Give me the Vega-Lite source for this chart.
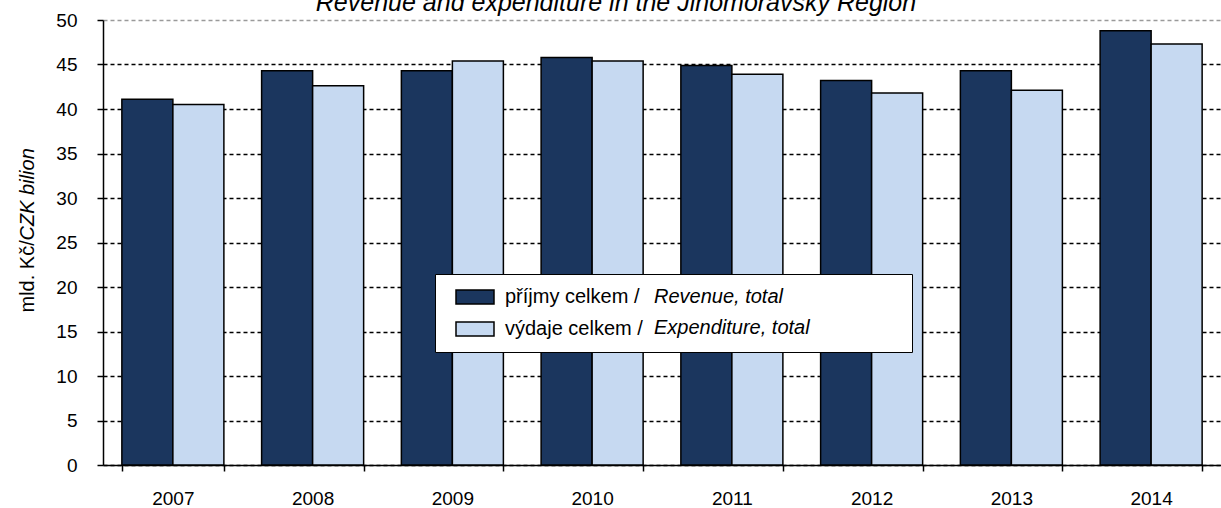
{
  "$schema": "https://vega.github.io/schema/vega-lite/v6.json",
  "width": 1118,
  "height": 445,
  "autosize": {"type": "none"},
  "padding": {"left": 103, "top": 20, "right": 0, "bottom": 43},
  "background": "white",
  "title": {
    "text": "Revenue and expenditure in the Jihomoravský Region",
    "font": "Liberation Sans",
    "fontStyle": "italic",
    "fontWeight": "normal",
    "fontSize": 25,
    "color": "black",
    "anchor": "middle",
    "baseline": "alphabetic",
    "offset": 2,
    "dx": -46,
    "dy": 27
  },
  "data": {
    "values": [
      {"year": "2007", "series": "příjmy celkem / Revenue, total", "value": 41.1},
      {"year": "2007", "series": "výdaje celkem / Expenditure, total", "value": 40.5},
      {"year": "2008", "series": "příjmy celkem / Revenue, total", "value": 44.3},
      {"year": "2008", "series": "výdaje celkem / Expenditure, total", "value": 42.6},
      {"year": "2009", "series": "příjmy celkem / Revenue, total", "value": 44.3},
      {"year": "2009", "series": "výdaje celkem / Expenditure, total", "value": 45.4},
      {"year": "2010", "series": "příjmy celkem / Revenue, total", "value": 45.8},
      {"year": "2010", "series": "výdaje celkem / Expenditure, total", "value": 45.4},
      {"year": "2011", "series": "příjmy celkem / Revenue, total", "value": 44.9},
      {"year": "2011", "series": "výdaje celkem / Expenditure, total", "value": 43.9},
      {"year": "2012", "series": "příjmy celkem / Revenue, total", "value": 43.2},
      {"year": "2012", "series": "výdaje celkem / Expenditure, total", "value": 41.8},
      {"year": "2013", "series": "příjmy celkem / Revenue, total", "value": 44.3},
      {"year": "2013", "series": "výdaje celkem / Expenditure, total", "value": 42.1},
      {"year": "2014", "series": "příjmy celkem / Revenue, total", "value": 48.8},
      {"year": "2014", "series": "výdaje celkem / Expenditure, total", "value": 47.3}
    ]
  },
  "mark": {"type": "bar", "stroke": "black", "strokeWidth": 1.5},
  "encoding": {
    "x": {
      "field": "year",
      "type": "ordinal",
      "scale": {"paddingInner": 0.27, "paddingOuter": 0.135},
      "axis": {
        "title": "CZK bilion",
        "titleFont": "Liberation Sans",
        "titleFontSize": 20,
        "titleFontStyle": "italic",
        "titleFontWeight": "normal",
        "titleColor": "black",
        "titleAngle": 270,
        "titleAlign": "left",
        "titleBaseline": "alphabetic",
        "titleX": -70,
        "titleY": -225,
        "tickBand": "extent",
        "grid": false,
        "domainColor": "black",
        "domainWidth": 1.5,
        "tickColor": "black",
        "tickSize": 6,
        "tickWidth": 1.5,
        "labelFont": "Liberation Sans",
        "labelFontSize": 19,
        "labelColor": "black",
        "labelPadding": 18,
        "labelAngle": 0
      }
    },
    "xOffset": {
      "field": "series",
      "type": "nominal",
      "sort": ["příjmy celkem / Revenue, total", "výdaje celkem / Expenditure, total"],
      "scale": {"paddingInner": 0, "paddingOuter": 0}
    },
    "y": {
      "field": "value",
      "type": "quantitative",
      "scale": {"domain": [0, 50], "nice": false},
      "axis": {
        "title": "mld. Kč/",
        "values": [0, 5, 10, 15, 20, 25, 30, 35, 40, 45, 50],
        "grid": true,
        "gridColor": {"condition": {"test": "datum.value == 50", "value": "#9a9a9a"}, "value": "black"},
        "gridDash": [4, 3],
        "gridWidth": 1.3,
        "domainColor": "black",
        "domainWidth": 1.5,
        "tickColor": "black",
        "tickSize": 6,
        "tickWidth": 1.5,
        "labelFont": "Liberation Sans",
        "labelFontSize": 19,
        "labelColor": "black",
        "labelPadding": 20,
        "titleFont": "Liberation Sans",
        "titleFontSize": 20,
        "titleFontWeight": "normal",
        "titleColor": "black",
        "titleAngle": 270,
        "titleAlign": "left",
        "titleBaseline": "alphabetic",
        "titleX": -70,
        "titleY": 292
      }
    },
    "color": {
      "field": "series",
      "type": "nominal",
      "scale": {
        "domain": ["příjmy celkem / Revenue, total", "výdaje celkem / Expenditure, total"],
        "range": ["#1b365e", "#c6d9f1"]
      },
      "legend": {
        "orient": "none",
        "legendX": 332,
        "legendY": 254,
        "title": "\u200b",
        "titleOrient": "right",
        "titleFontSize": 1,
        "titlePadding": 257,
        "fillColor": "white",
        "strokeColor": "black",
        "padding": 12.5,
        "symbolOffset": 17,
        "symbolType": "M-2,-0.74H2V0.74H-2Z",
        "symbolSize": 361,
        "symbolStrokeColor": "black",
        "symbolStrokeWidth": 1.5,
        "symbolOpacity": 1,
        "labelFont": "Liberation Sans",
        "labelFontSize": 20,
        "labelColor": "black",
        "labelOffset": 19.5,
        "labelLimit": 0,
        "rowPadding": 11,
        "labelExpr": "split(datum.label, ' / ')[0] + ' /'"
      }
    },
    "opacity": {
      "field": "series",
      "type": "nominal",
      "scale": {"range": [1, 1]},
      "legend": {
        "orient": "none",
        "legendX": 518.5,
        "legendY": 254,
        "title": null,
        "padding": 12.5,
        "symbolOffset": 0,
        "symbolSize": 0,
        "symbolStrokeWidth": 0,
        "labelFont": "Liberation Sans",
        "labelFontSize": 20,
        "labelFontStyle": "italic",
        "labelColor": "black",
        "labelOffset": 0,
        "labelLimit": 0,
        "rowPadding": 11,
        "labelExpr": "split(datum.label, ' / ')[1]"
      }
    }
  },
  "config": {"view": {"stroke": null}}
}
